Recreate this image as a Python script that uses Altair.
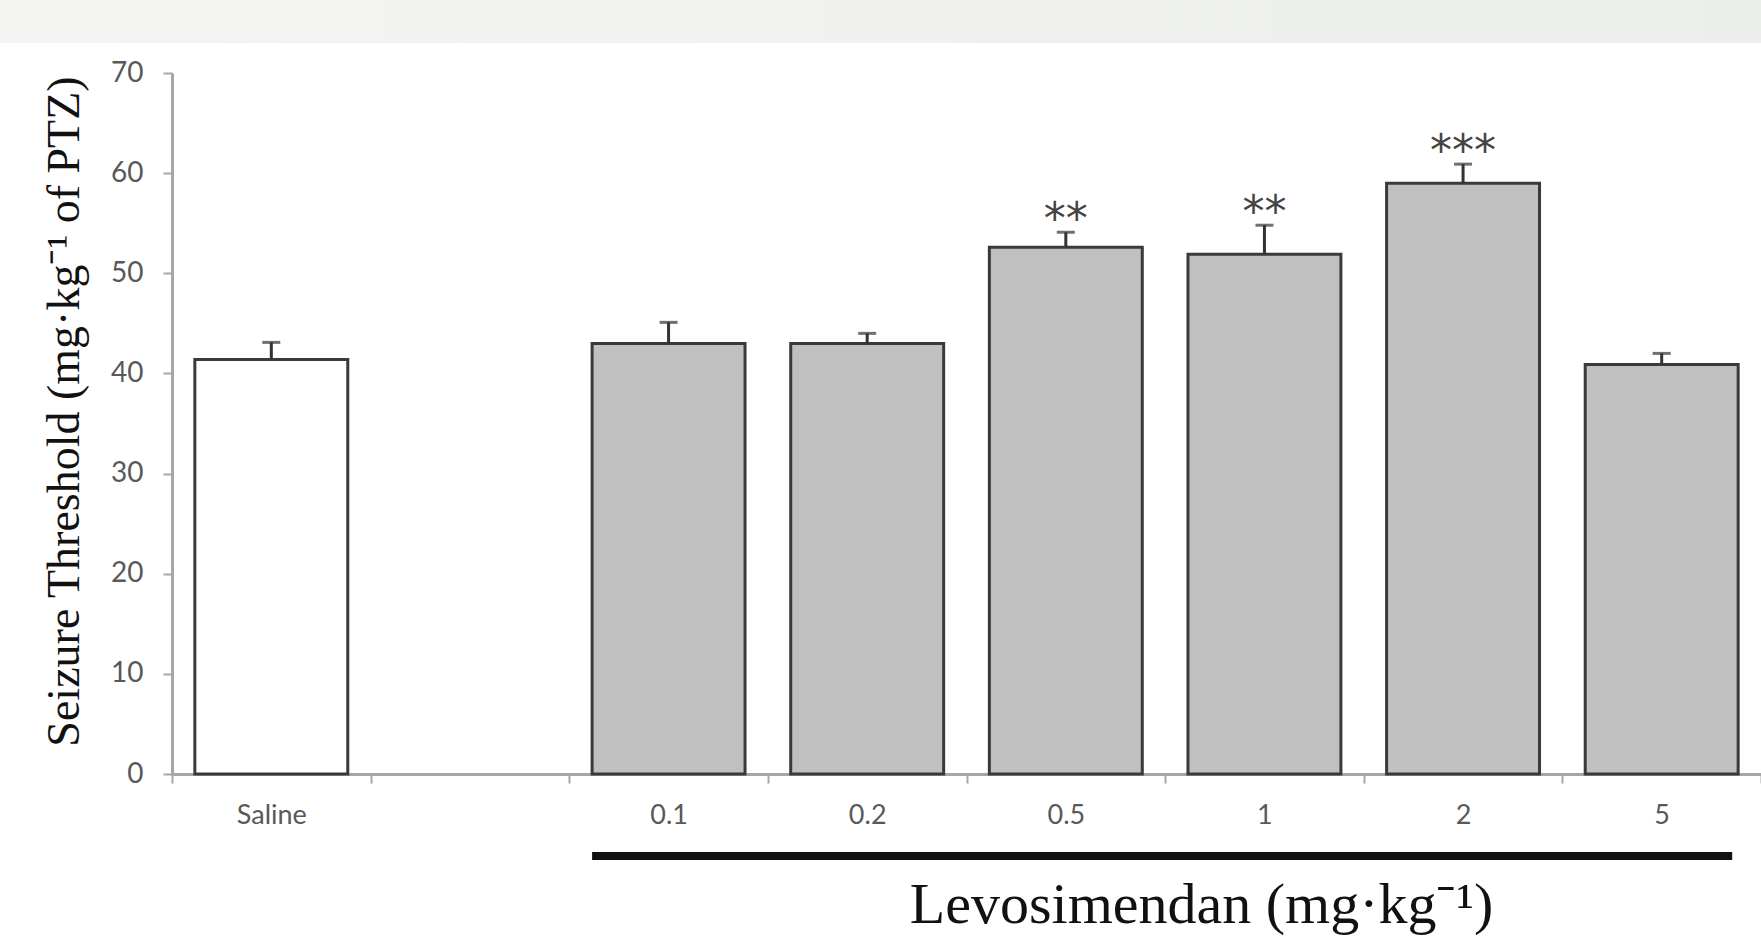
import altair as alt
import pandas as pd

# ---- data ----
categories = ["Saline", " ", "0.1", "0.2", "0.5", "1", "2", "5"]
groups = ["Saline", "0.1", "0.2", "0.5", "1", "2", "5"]
means = [41.4, 43.0, 43.0, 52.6, 51.9, 59.0, 40.9]
upper = [43.1, 45.1, 44.0, 54.1, 54.8, 60.9, 42.0]
stars = ["", "", "", "**", "**", "***", ""]

df = pd.DataFrame({"group": groups, "mean": means, "upper": upper, "stars": stars})
df_line = pd.DataFrame({"start": ["0.1"], "end": ["5"]})
df_band = pd.DataFrame({"k": [0]})

W, H = 1589, 701
PAD_L, PAD_T = 172, 73
BAR_FRAC = 0.77
EDGE = (1 - BAR_FRAC) / 2

xscale = alt.Scale(domain=categories, paddingInner=0, paddingOuter=0)
yscale = alt.Scale(domain=[0, 70], nice=False)

x_axis = alt.Axis(
    title="Levosimendan (mg·kg⁻¹)",
    titleFont="Liberation Serif", titleFontSize=58, titleFontWeight="normal",
    titleColor="#111111", titleX=1029, titleY=148, titleAlign="center",
    titleBaseline="alphabetic",
    labelFont="Lato", labelFontSize=27, labelColor="#595959", labelAngle=0,
    labelPadding=32, labelBaseline="middle",
    domainColor="#a6a6a6", domainWidth=3,
    tickColor="#a6a6a6", tickWidth=2, tickSize=9, tickBand="extent",
    grid=False,
)
y_axis = alt.Axis(
    title="Seizure Threshold (mg·kg⁻¹ of PTZ)",
    titleFont="Liberation Serif", titleFontSize=46, titleFontWeight="normal",
    titleColor="#111111", titleX=-94, titleY=338, titleAlign="center",
    titleBaseline="alphabetic", titleAngle=270,
    labelFont="Lato", labelFontSize=28, labelColor="#595959",
    labelPadding=20,
    values=[0, 10, 20, 30, 40, 50, 60, 70],
    domainColor="#a6a6a6", domainWidth=3,
    tickColor="#a6a6a6", tickWidth=2, tickSize=9,
    grid=False,
)

band = alt.Chart(df_band).mark_rect(
    fill=alt.LinearGradient(
        gradient="linear",
        stops=[alt.GradientStop(color="#f4f5f3", offset=0),
               alt.GradientStop(color="#eceeeb", offset=1)],
        x1=0, x2=1, y1=0, y2=0,
    )
).encode(
    x=alt.value(-PAD_L), x2=alt.value(W), y=alt.value(-PAD_T), y2=alt.value(-30)
)

bars = alt.Chart(df).mark_bar(
    stroke="#3a3a3a", strokeWidth=3, width=alt.RelativeBandSize(BAR_FRAC)
).encode(
    x=alt.X("group:N", scale=xscale, sort=None, axis=x_axis),
    y=alt.Y("mean:Q", scale=yscale, axis=y_axis),
    fill=alt.condition(alt.datum.group == "Saline", alt.value("#ffffff"), alt.value("#c0c0c0")),
)

err = alt.Chart(df).mark_rule(color="#333333", strokeWidth=3).encode(
    x=alt.X("group:N", scale=xscale, sort=None),
    y=alt.Y("mean:Q", scale=yscale),
    y2="upper:Q",
)

caps = alt.Chart(df).mark_tick(color="#333333", thickness=3, size=18, orient="horizontal").encode(
    x=alt.X("group:N", scale=xscale, sort=None),
    y=alt.Y("upper:Q", scale=yscale),
)

star_text = alt.Chart(df).mark_text(
    font="DejaVu Sans", fontSize=44, color="#444444", baseline="alphabetic", dy=2
).encode(
    x=alt.X("group:N", scale=xscale, sort=None),
    y=alt.Y("upper:Q", scale=yscale),
    text="stars:N",
)

group_line = alt.Chart(df_line).mark_rule(color="#111111", strokeWidth=8).encode(
    x=alt.X("start:N", scale=xscale, bandPosition=EDGE),
    x2=alt.X2("end:N", bandPosition=1 - EDGE - 0.03),
    y=alt.value(783),
)

chart = alt.layer(band, bars, err, caps, star_text, group_line).properties(
    width=W, height=H,
    autosize=alt.AutoSizeParams(type="none"),
    padding={"left": PAD_L, "top": PAD_T, "right": 0, "bottom": 942 - PAD_T - H},
    background="white",
).configure_view(stroke=None)

chart.save("out.html", embed_options={"renderer": "svg", "actions": False})
